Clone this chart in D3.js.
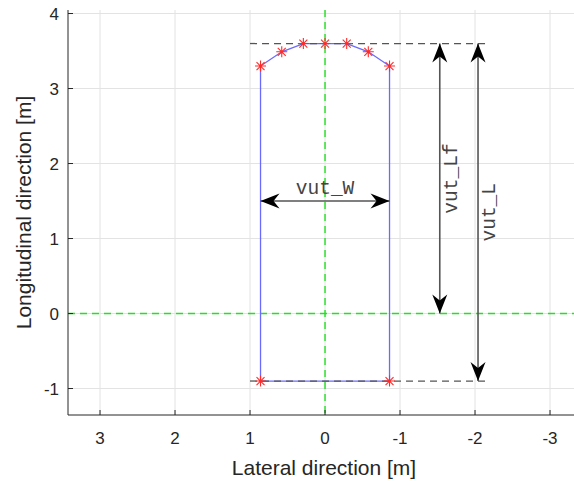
<!DOCTYPE html>
<html>
<head>
<meta charset="utf-8">
<script src="https://cdn.jsdelivr.net/npm/d3@7"></script>
<style>
  body { margin: 0; background: #fff; }
  text { font-family: "Liberation Sans", Arial, sans-serif; }
</style>
</head>
<body>
<div id="chart"></div>
<script>
// vehicle outline (lateral x, longitudinal y) in metres
var outline_x = [0.86, 0.86, 0.577, 0.289, 0, -0.289, -0.577, -0.86, -0.86, 0.86];
var outline_y = [-0.9, 3.3, 3.49, 3.6, 3.6, 3.6, 3.49, 3.3, -0.9, -0.9];
var star_x = [0.86, 0.577, 0.289, 0, -0.289, -0.577, -0.86, 0.86, -0.86];
var star_y = [3.3, 3.49, 3.6, 3.6, 3.6, 3.49, 3.3, -0.9, -0.9];

// dimension arrows
var dim_labels = ['vut_W', 'vut_Lf', 'vut_L'];
var dim_x1 = [0.86, -1.53, -2.04];
var dim_y1 = [1.5, 3.6, 3.6];
var dim_x2 = [-0.86, -1.53, -2.04];
var dim_y2 = [1.5, 0, -0.9];

// dashed reference lines (front and rear)
var ref_y = [3.6, -0.9];
var ref_x_from = [1.0, 1.0];
var ref_x_to = [-2.17, -2.17];

var x_ticks = [3, 2, 1, 0, -1, -2, -3];
var y_ticks = [-1, 0, 1, 2, 3, 4];

var width = 574, height = 483;
var margin = {left: 68, top: 10, bottom: 68};
var plot_h = height - margin.top - margin.bottom;

var x = d3.scaleLinear().domain([3.427, -3.427]).range([margin.left, margin.left + 6.854 * 75]);
var y = d3.scaleLinear().domain([-1.353, 4.047]).range([margin.top + plot_h, margin.top]);

var svg = d3.select('#chart')
  .append('svg')
  .attr('width', width)
  .attr('height', height);

svg.append('defs')
  .append('clipPath')
  .attr('id', 'plot_clip')
  .append('rect')
  .attr('x', margin.left)
  .attr('y', margin.top)
  .attr('width', width - margin.left)
  .attr('height', plot_h);

svg.select('defs')
  .append('marker')
  .attr('id', 'head')
  .attr('markerUnits', 'userSpaceOnUse')
  .attr('viewBox', '-20 -8 21 16')
  .attr('refX', 0)
  .attr('refY', 0)
  .attr('markerWidth', 21)
  .attr('markerHeight', 16)
  .attr('orient', 'auto-start-reverse')
  .append('path')
  .attr('d', 'M0,0 L-19,-7.5 L-13,0 L-19,7.5 Z')
  .attr('fill', '#000');

// grid
var grid = svg.append('g').attr('class', 'grid');
grid.selectAll('.gx')
  .data(x_ticks)
  .enter().append('line')
  .attr('x1', function(d) { return x(d); })
  .attr('x2', function(d) { return x(d); })
  .attr('y1', margin.top)
  .attr('y2', margin.top + plot_h)
  .attr('stroke', '#e3e3e3')
  .attr('stroke-width', 1);
grid.selectAll('.gy')
  .data(y_ticks)
  .enter().append('line')
  .attr('x1', margin.left)
  .attr('x2', width)
  .attr('y1', function(d) { return y(d); })
  .attr('y2', function(d) { return y(d); })
  .attr('stroke', '#e3e3e3')
  .attr('stroke-width', 1);

var plot = svg.append('g').attr('clip-path', 'url(#plot_clip)');

// green centre lines
plot.append('line')
  .attr('x1', x(0)).attr('x2', x(0))
  .attr('y1', margin.top).attr('y2', margin.top + plot_h)
  .attr('stroke', '#22e022')
  .attr('stroke-width', 1.4)
  .attr('stroke-dasharray', '7,5');
plot.append('line')
  .attr('x1', margin.left).attr('x2', width)
  .attr('y1', y(0)).attr('y2', y(0))
  .attr('stroke', '#22e022')
  .attr('stroke-width', 1.4)
  .attr('stroke-dasharray', '7,5');

// vehicle outline
var outline = d3.range(outline_x.length).map(function(i) { return [outline_x[i], outline_y[i]]; });
plot.append('path')
  .datum(outline)
  .attr('d', d3.line().x(function(d) { return x(d[0]); }).y(function(d) { return y(d[1]); }))
  .attr('fill', 'none')
  .attr('stroke', '#6a6aff')
  .attr('stroke-width', 1.3);

// dashed reference lines
plot.selectAll('.ref')
  .data(ref_y)
  .enter().append('line')
  .attr('x1', function(d, i) { return x(ref_x_from[i]); })
  .attr('x2', function(d, i) { return x(ref_x_to[i]); })
  .attr('y1', function(d) { return y(d); })
  .attr('y2', function(d) { return y(d); })
  .attr('stroke', '#555')
  .attr('stroke-width', 1.3)
  .attr('stroke-dasharray', '7,5');

// star markers
plot.selectAll('.star')
  .data(d3.range(star_x.length))
  .enter().append('path')
  .attr('transform', function(i) { return 'translate(' + x(star_x[i]) + ',' + y(star_y[i]) + ')'; })
  .attr('d', 'M-5.5,0H5.5M0,-5.5V5.5M-4,-4L4,4M-4,4L4,-4')
  .attr('stroke', '#ff2a2a')
  .attr('stroke-width', 1.1)
  .attr('fill', 'none');

// dimension arrows
var dims = plot.selectAll('.dim')
  .data(dim_labels)
  .enter().append('g');
dims.append('line')
  .attr('x1', function(d, i) { return x(dim_x1[i]); })
  .attr('y1', function(d, i) { return y(dim_y1[i]); })
  .attr('x2', function(d, i) { return x(dim_x2[i]); })
  .attr('y2', function(d, i) { return y(dim_y2[i]); })
  .attr('stroke', '#555')
  .attr('stroke-width', 1.6)
  .attr('marker-start', 'url(#head)')
  .attr('marker-end', 'url(#head)');
dims.append('text')
  .text(function(d) { return d; })
  .attr('transform', function(d, i) {
    var cx = (x(dim_x1[i]) + x(dim_x2[i])) / 2;
    var cy = (y(dim_y1[i]) + y(dim_y2[i])) / 2;
    if (dim_y1[i] === dim_y2[i]) return 'translate(' + cx + ',' + (cy - 7) + ')';
    return 'translate(' + (cx + 17) + ',' + cy + ') rotate(-90)';
  })
  .attr('text-anchor', 'middle')
  .style('font-family', '"Liberation Mono", "Courier New", monospace')
  .style('font-size', '19.5px')
  .attr('fill', '#444');

// axes
var axis_color = '#262626';
svg.append('line')
  .attr('x1', margin.left).attr('x2', width)
  .attr('y1', margin.top + plot_h).attr('y2', margin.top + plot_h)
  .attr('stroke', axis_color).attr('stroke-width', 1);
svg.append('line')
  .attr('x1', margin.left).attr('x2', margin.left)
  .attr('y1', margin.top).attr('y2', margin.top + plot_h)
  .attr('stroke', axis_color).attr('stroke-width', 1);

svg.selectAll('.xtick')
  .data(x_ticks)
  .enter().append('line')
  .attr('x1', function(d) { return x(d); })
  .attr('x2', function(d) { return x(d); })
  .attr('y1', margin.top + plot_h)
  .attr('y2', margin.top + plot_h - 5)
  .attr('stroke', axis_color);
svg.selectAll('.xlab')
  .data(x_ticks)
  .enter().append('text')
  .attr('x', function(d) { return x(d); })
  .attr('y', 443.5)
  .attr('text-anchor', 'middle')
  .style('font-size', '17px')
  .attr('fill', axis_color)
  .text(function(d) { return d; });

svg.selectAll('.ytick')
  .data(y_ticks)
  .enter().append('line')
  .attr('x1', margin.left)
  .attr('x2', margin.left + 5)
  .attr('y1', function(d) { return y(d); })
  .attr('y2', function(d) { return y(d); })
  .attr('stroke', axis_color);
svg.selectAll('.ylab')
  .data(y_ticks)
  .enter().append('text')
  .attr('x', 59)
  .attr('y', function(d) { return y(d) + 6; })
  .attr('text-anchor', 'end')
  .style('font-size', '17px')
  .attr('fill', axis_color)
  .text(function(d) { return d; });

svg.append('text')
  .attr('x', 324)
  .attr('y', 475)
  .attr('text-anchor', 'middle')
  .style('font-size', '21px')
  .attr('fill', axis_color)
  .text('Lateral direction [m]');

svg.append('text')
  .attr('transform', 'translate(31,' + (margin.top + plot_h / 2) + ') rotate(-90)')
  .attr('text-anchor', 'middle')
  .style('font-size', '21px')
  .attr('fill', axis_color)
  .text('Longitudinal direction [m]');
</script>
</body>
</html>
